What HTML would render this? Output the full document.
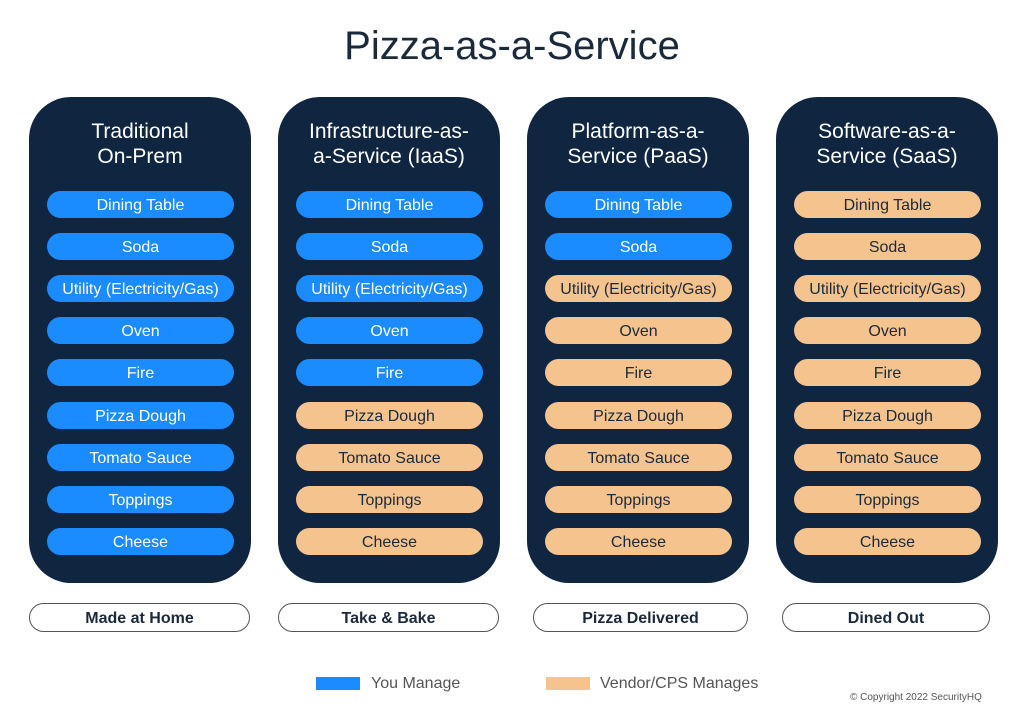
<!DOCTYPE html>
<html><head><meta charset="utf-8"><style>
body{margin:0;width:1024px;height:717px;background:#fff;position:relative;overflow:hidden;font-family:"Liberation Sans",sans-serif}
.abs{position:absolute}
.col{position:absolute;top:97px;width:222px;height:486px;background:#0f2540;border-radius:42px}
.ct{position:absolute;top:22px;left:0;width:100%;text-align:center;color:#fff;font-size:21px;line-height:25px}
.pill{position:absolute;left:18px;width:187px;height:27px;border-radius:14px;text-align:center;font-size:16px;line-height:29px}
.you{background:#1a8cff;color:#fff}
.ven{background:#f5c38d;color:#1b2a3a}
.foot{position:absolute;top:603px;height:27px;border:1.5px solid #555;border-radius:15px;text-align:center;font-size:16px;font-weight:bold;line-height:29px;color:#1b2a3a}
</style></head><body>
<div class="abs" style="top:24px;left:0;width:1024px;text-align:center;font-size:40px;color:#1b2a3a">Pizza-as-a-Service</div>
<div id="root"></div>
<div class="abs" style="left:316px;top:677px;width:44px;height:13px;background:#1a8cff"></div>
<div class="abs" style="left:371px;top:675px;font-size:16px;color:#555">You Manage</div>
<div class="abs" style="left:546px;top:677px;width:44px;height:13px;background:#f5c38d"></div>
<div class="abs" style="left:600px;top:675px;font-size:16px;color:#555">Vendor/CPS Manages</div>
<div class="abs" style="left:850px;top:692px;font-size:10px;color:#555">© Copyright 2022 SecurityHQ</div>
<script>
const titles=["Traditional<br>On-Prem","Infrastructure-as-<br>a-Service (IaaS)","Platform-as-a-<br>Service (PaaS)","Software-as-a-<br>Service (SaaS)"];
const items=["Dining Table","Soda","Utility (Electricity/Gas)","Oven","Fire","Pizza Dough","Tomato Sauce","Toppings","Cheese"];
const youCount=[9,5,2,0];
const footers=["Made at Home","Take & Bake","Pizza Delivered","Dined Out"];
const colX=[29,278,527,776];
const footX=[[29,222],[278,222],[533,216],[782,209]];
const root=document.getElementById('root');
titles.forEach((t,c)=>{
  const col=document.createElement('div');col.className='col';col.style.left=colX[c]+'px';
  
  
  const h=document.createElement('div');h.className='ct';h.innerHTML=t;
  
  
  col.appendChild(h);
  items.forEach((it,i)=>{
    const p=document.createElement('div');
    p.className='pill '+(i<youCount[c]?'you':'ven');
    p.style.top=(94+i*42.1)+'px';p.textContent=it;
    
    
    col.appendChild(p);
  });
  root.appendChild(col);
  const f=document.createElement('div');f.className='foot';
  f.style.left=footX[c][0]+'px';f.style.width=(footX[c][1]-3)+'px';f.textContent=footers[c];
  
  
  root.appendChild(f);
});
</script>
</body></html>
